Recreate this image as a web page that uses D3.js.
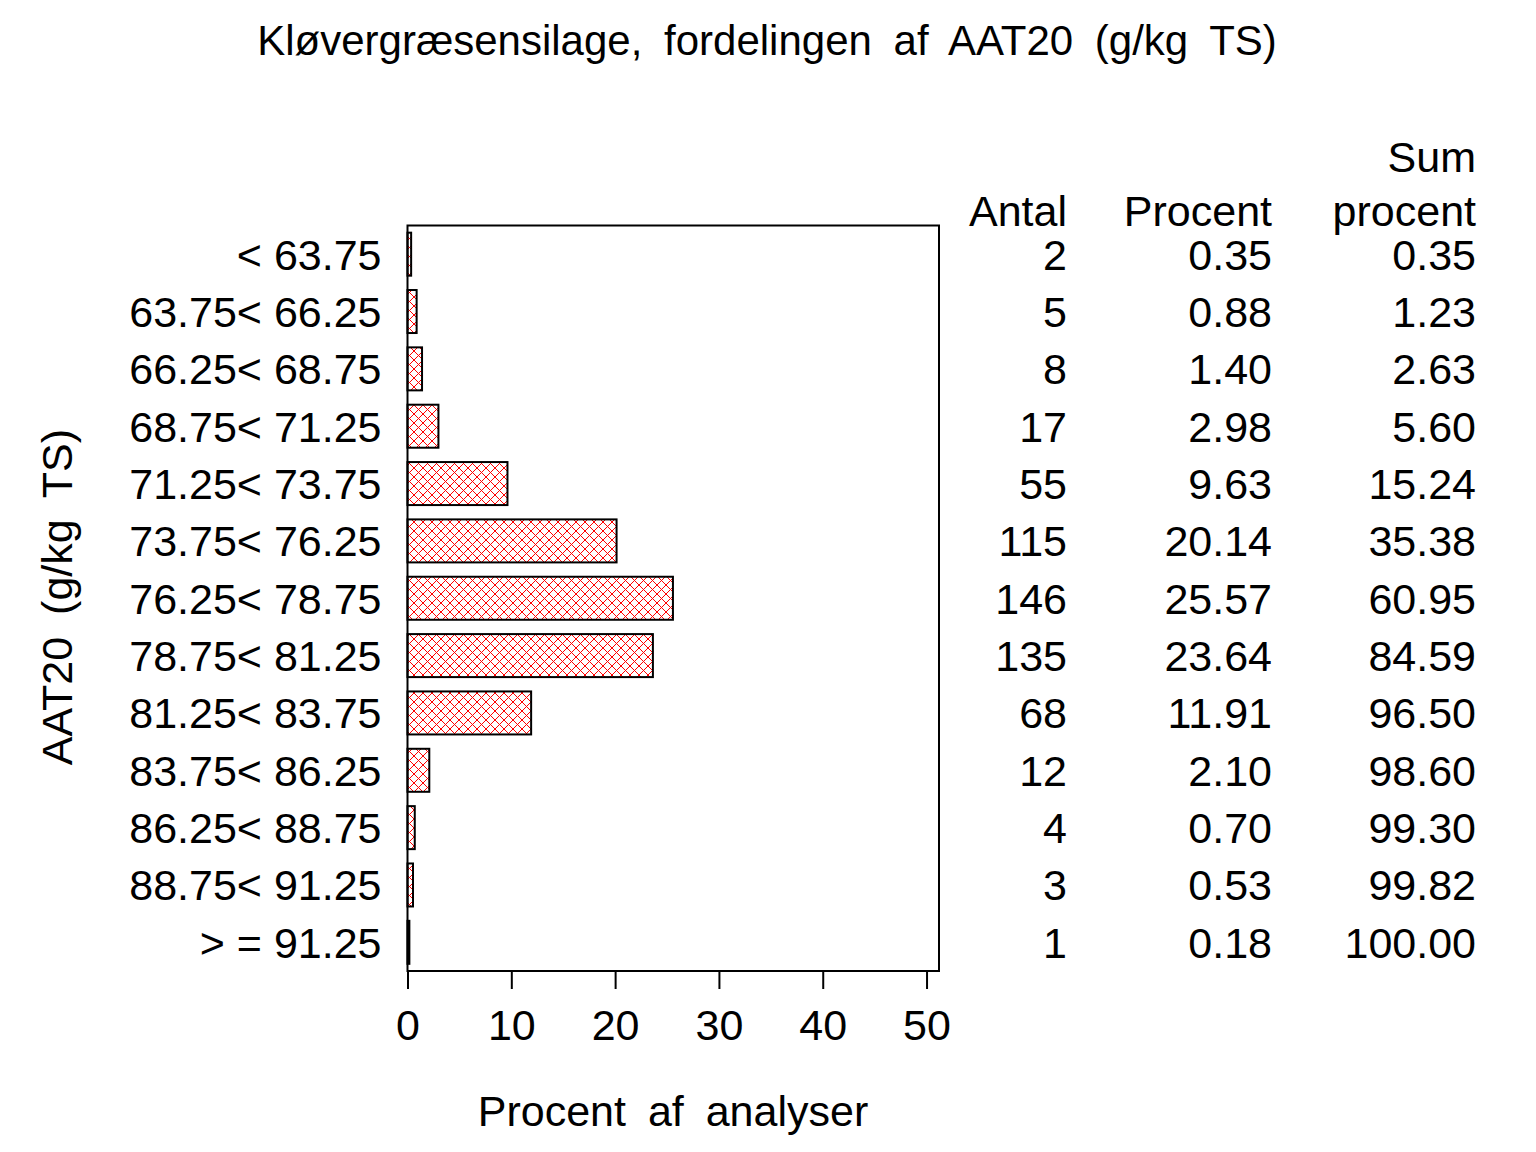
<!DOCTYPE html>
<html>
<head>
<meta charset="utf-8">
<script src="https://cdn.jsdelivr.net/npm/d3@7/dist/d3.min.js"></script>
<style>
  body { margin: 0; background: #fff; }
  text { font-family: "Liberation Sans", Arial, sans-serif; fill: #000; }
</style>
</head>
<body>
<script>
// data
var classes = ["< 63.75", "63.75< 66.25", "66.25< 68.75", "68.75< 71.25", "71.25< 73.75",
               "73.75< 76.25", "76.25< 78.75", "78.75< 81.25", "81.25< 83.75", "83.75< 86.25",
               "86.25< 88.75", "88.75< 91.25", "> = 91.25"];
var antal = [2, 5, 8, 17, 55, 115, 146, 135, 68, 12, 4, 3, 1];
var procent = [0.35, 0.88, 1.40, 2.98, 9.63, 20.14, 25.57, 23.64, 11.91, 2.10, 0.70, 0.53, 0.18];
var sumProcent = [0.35, 1.23, 2.63, 5.60, 15.24, 35.38, 60.95, 84.59, 96.50, 98.60, 99.30, 99.82, 100.00];
var xTicks = [0, 10, 20, 30, 40, 50];

var W = 1536, H = 1152;
var fs = 43;

var svg = d3.select("body").append("svg")
  .attr("width", W).attr("height", H);

// red crosshatch fill
var defs = svg.append("defs");
var pat = defs.append("pattern")
  .attr("id", "hatch")
  .attr("patternUnits", "userSpaceOnUse")
  .attr("width", 9).attr("height", 9);
pat.append("rect").attr("width", 9).attr("height", 9).attr("fill", "#fff");
pat.append("path")
  .attr("d", "M0,0L9,9M9,0L0,9")
  .attr("stroke", "#ff0000").attr("stroke-width", 1);

var pLeft = 407.5, pRight = 939, pTop = 225.5, pBottom = 971;

var x = d3.scaleLinear().domain([0, 51.2]).range([pLeft, pRight]);
var y = d3.scaleBand().domain(classes).range([pTop, pBottom]).paddingInner(0.25).paddingOuter(0.125);

// title
svg.append("text")
  .attr("x", 767).attr("y", 55)
  .attr("text-anchor", "middle")
  .style("font-size", "42px")
  .style("word-spacing", "10px")
  .text("Kløvergræsensilage, fordelingen af AAT20 (g/kg TS)");

// bars
svg.selectAll("rect.bar")
  .data(procent)
  .enter().append("rect")
    .attr("class", "bar")
    .attr("x", x(0))
    .attr("y", function (d, i) { return y(classes[i]); })
    .attr("width", function (d) { return x(d) - x(0); })
    .attr("height", y.bandwidth())
    .attr("fill", "url(#hatch)")
    .attr("stroke", "#000")
    .attr("stroke-width", 2);

// frame
svg.append("rect")
  .attr("x", pLeft).attr("y", pTop)
  .attr("width", pRight - pLeft).attr("height", pBottom - pTop)
  .attr("fill", "none").attr("stroke", "#000").attr("stroke-width", 2);

// x axis
var xAxis = d3.axisBottom(x).tickValues(xTicks).tickSize(18).tickPadding(20).tickFormat(d3.format("d"));
var gx = svg.append("g").attr("transform", "translate(0," + pBottom + ")").call(xAxis);
gx.select(".domain").remove();
gx.selectAll("line").attr("stroke-width", 2);
gx.selectAll("text").style("font-size", fs + "px")
  .style("font-family", "'Liberation Sans', Arial, sans-serif");

// y class labels
var yAxis = d3.axisLeft(y).tickSize(0).tickPadding(26);
var gy = svg.append("g").attr("transform", "translate(" + pLeft + ",0)").call(yAxis);
gy.select(".domain").remove();
gy.selectAll("text").style("font-size", fs + "px")
  .style("font-family", "'Liberation Sans', Arial, sans-serif")
  .attr("dy", "0.36em");

// axis titles
svg.append("text")
  .attr("x", 673).attr("y", 1126)
  .attr("text-anchor", "middle")
  .style("font-size", fs + "px")
  .style("word-spacing", "10px")
  .text("Procent af analyser");

svg.append("text")
  .attr("transform", "translate(72,597) rotate(-90)")
  .attr("text-anchor", "middle")
  .style("font-size", fs + "px")
  .style("word-spacing", "10px")
  .text("AAT20 (g/kg TS)");

// table on the right
var cols = [
  { x: 1067, head: ["Antal"], vals: antal.map(String) },
  { x: 1272, head: ["Procent"], vals: procent.map(d3.format(".2f")) },
  { x: 1476, head: ["Sum", "procent"], vals: sumProcent.map(d3.format(".2f")) }
];
cols.forEach(function (c) {
  c.head.forEach(function (h, k) {
    svg.append("text")
      .attr("x", c.x)
      .attr("y", 226 - (c.head.length - 1 - k) * 54)
      .attr("text-anchor", "end")
      .style("font-size", fs + "px")
      .text(h);
  });
  svg.selectAll(null)
    .data(c.vals)
    .enter().append("text")
      .attr("x", c.x)
      .attr("y", function (d, i) { return y(classes[i]) + y.bandwidth() / 2; })
      .attr("dy", "0.36em")
      .attr("text-anchor", "end")
      .style("font-size", fs + "px")
      .text(function (d) { return d; });
});
</script>
</body>
</html>
